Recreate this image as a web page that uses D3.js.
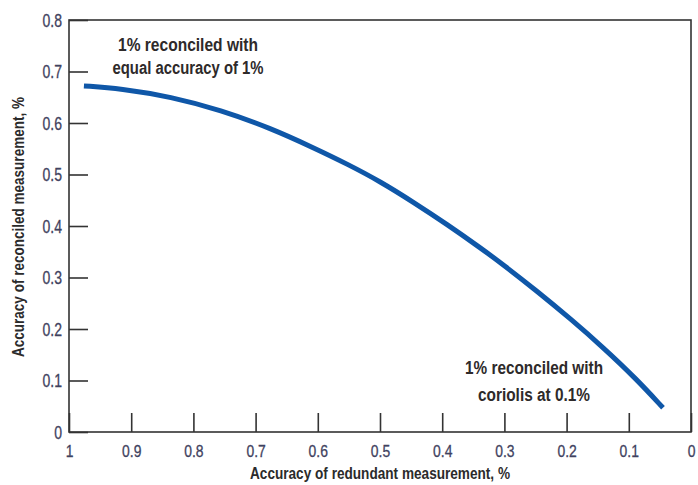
<!DOCTYPE html>
<html>
<head>
<meta charset="utf-8">
<script src="https://cdn.jsdelivr.net/npm/d3@7"></script>
<style>
  html, body { margin: 0; padding: 0; background: #fff; }
  svg { display: block; }
  text { font-family: "Liberation Sans", Arial, sans-serif; }
</style>
</head>
<body>
<svg id="chart" width="698" height="485"></svg>
<script>
// Data
const redundantAccuracy = [0.976, 0.917, 0.836, 0.756, 0.676, 0.607, 0.552, 0.499, 0.446, 0.392, 0.339, 0.302, 0.247, 0.194, 0.141, 0.087, 0.045];
const reconciledAccuracy = [0.672, 0.667, 0.651, 0.625, 0.590, 0.552, 0.520, 0.486, 0.446, 0.403, 0.358, 0.325, 0.273, 0.220, 0.164, 0.102, 0.047];
const xTicks = [1, 0.9, 0.8, 0.7, 0.6, 0.5, 0.4, 0.3, 0.2, 0.1, 0];
const xTickLabels = ["1", "0.9", "0.8", "0.7", "0.6", "0.5", "0.4", "0.3", "0.2", "0.1", "0"];
const yTicks = [0, 0.1, 0.2, 0.3, 0.4, 0.5, 0.6, 0.7, 0.8];
const yTickLabels = ["0", "0.1", "0.2", "0.3", "0.4", "0.5", "0.6", "0.7", "0.8"];
const xTitle = "Accuracy of redundant measurement, %";
const yTitle = "Accuracy of reconciled measurement, %";
const noteTop = ["1% reconciled with", "equal accuracy of 1%"];
const noteBottom = ["1% reconciled with", "coriolis at 0.1%"];

const svg = d3.select("#chart");
const mLeft = 69, mRight = 691, mTop = 20, mBottom = 432;

const x = d3.scaleLinear().domain([1, 0]).range([mLeft, mRight]);
const y = d3.scaleLinear().domain([0, 0.8]).range([mBottom, mTop]);

const axisColor = "#333";
const tickTextColor = "#3f4260";

// frame
svg.append("rect")
  .attr("x", mLeft).attr("y", mTop)
  .attr("width", mRight - mLeft).attr("height", mBottom - mTop)
  .attr("fill", "none").attr("stroke", axisColor).attr("stroke-width", 1.6);

// x axis (ticks point inward)
const xAxis = d3.axisBottom(x)
  .tickValues(xTicks)
  .tickSize(-19)
  .tickFormat((d, i) => xTickLabels[i]);
const gx = svg.append("g").attr("transform", `translate(0,${mBottom})`).call(xAxis);
gx.select(".domain").remove();
gx.selectAll(".tick line").attr("stroke", axisColor).attr("stroke-width", 1.6);
gx.selectAll(".tick text")
  .attr("fill", tickTextColor)
  .attr("font-size", 17)
  .attr("stroke", tickTextColor)
  .attr("stroke-width", 0.3)
  .attr("dy", null)
  .attr("y", 25)
  .attr("transform", "scale(0.82,1)");

// y axis (ticks point inward)
const ySx = 0.78;
const yAxis = d3.axisLeft(y)
  .tickValues(yTicks)
  .tickSize(-19)
  .tickFormat((d, i) => yTickLabels[i]);
const gy = svg.append("g").attr("transform", `translate(${mLeft},0)`).call(yAxis);
gy.select(".domain").remove();
gy.selectAll(".tick line").attr("stroke", axisColor).attr("stroke-width", 1.6);
gy.selectAll(".tick text")
  .attr("fill", tickTextColor)
  .attr("font-size", 18)
  .attr("stroke", tickTextColor)
  .attr("stroke-width", 0.3)
  .attr("dy", "0.36em")
  .attr("x", -7 / ySx)
  .attr("transform", `scale(${ySx},1)`);

// curve
const pts = redundantAccuracy.map((d, i) => [d, reconciledAccuracy[i]]);
svg.append("path")
  .datum(pts)
  .attr("d", d3.line().x(d => x(d[0])).y(d => y(d[1])).curve(d3.curveBasis))
  .attr("fill", "none")
  .attr("stroke", "#0f57a8")
  .attr("stroke-width", 5)
  .attr("stroke-linecap", "butt");

// axis titles
svg.append("text")
  .attr("x", 380).attr("y", 479)
  .attr("text-anchor", "middle")
  .attr("font-size", 17)
  .attr("font-weight", "bold")
  .attr("fill", "#2b2b2b")
  .attr("textLength", 260)
  .attr("lengthAdjust", "spacingAndGlyphs")
  .text(xTitle);

svg.append("text")
  .attr("transform", "translate(24,227) rotate(-90)")
  .attr("text-anchor", "middle")
  .attr("font-size", 17)
  .attr("font-weight", "bold")
  .attr("fill", "#2b2b2b")
  .attr("textLength", 260)
  .attr("lengthAdjust", "spacingAndGlyphs")
  .text(yTitle);

// annotations
const noteColor = "#2e2a2a";
const topWidths = [140, 151];
const bottomWidths = [138, 112];
svg.append("g")
  .selectAll("text").data(noteTop).join("text")
  .attr("x", 188)
  .attr("y", (d, i) => 51 + i * 23)
  .attr("text-anchor", "middle")
  .attr("font-size", 18)
  .attr("font-weight", "bold")
  .attr("fill", noteColor)
  .attr("textLength", (d, i) => topWidths[i])
  .attr("lengthAdjust", "spacingAndGlyphs")
  .text(d => d);

svg.append("g")
  .selectAll("text").data(noteBottom).join("text")
  .attr("x", 534)
  .attr("y", (d, i) => 374 + i * 27)
  .attr("text-anchor", "middle")
  .attr("font-size", 18)
  .attr("font-weight", "bold")
  .attr("fill", noteColor)
  .attr("textLength", (d, i) => bottomWidths[i])
  .attr("lengthAdjust", "spacingAndGlyphs")
  .text(d => d);
</script>
</body>
</html>
